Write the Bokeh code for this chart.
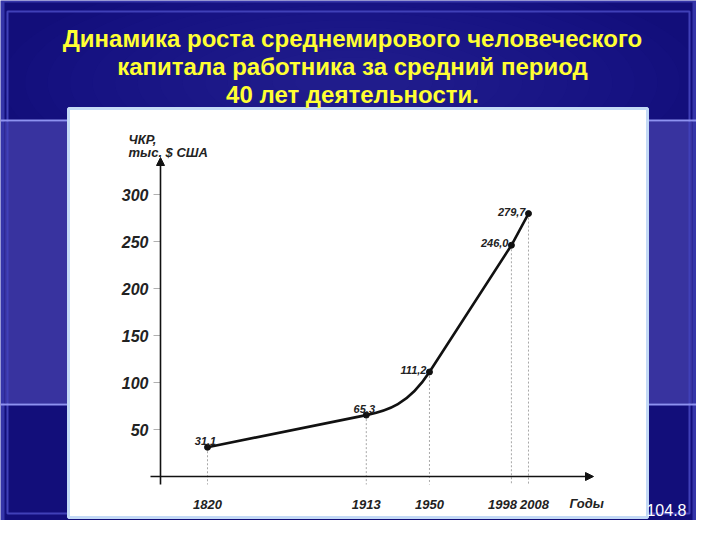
from bokeh.plotting import figure
from bokeh.models import FixedTicker, Arrow, NormalHead
from bokeh.core.properties import value
from bokeh.embed import file_html
from bokeh.resources import INLINE

# данные
years = [1820, 1913, 1950, 1998, 2008]
capital = [31.1, 65.3, 111.2, 246.0, 279.7]
y_ticks = [50, 100, 150, 200, 250, 300]
title_lines = ["Динамика роста среднемирового человеческого",
               "капитала работника за средний период",
               "40 лет деятельности."]
y_title = ["ЧКР,", "тыс. $ США"]
x_title = "Годы"
slide_no = "104.8"

# масштаб: пикселей на год и на 1 тыс. $
K = 1.7074
V = 0.94


def sx(px):
    return 1820 + (px - 215) / K


def sy(py):
    return (484 - py) / V


FONT = value("Liberation Sans")
INK = "#111111"

p = figure(width=696, height=520, x_range=(sx(8), sx(704)), y_range=(sy(528), sy(8)),
           output_backend="svg", toolbar_location=None, min_border=0)
p.grid.visible = False
p.outline_line_color = None
p.background_fill_color = "#3535a9"
p.border_fill_color = "#3535a9"

# фон слайда
p.quad(left=[sx(12)], right=[sx(700)], top=[sy(10)], bottom=[sy(529)],
       fill_color="#120e7a", line_color=None)
# мягкое свечение за заголовком
for i in range(14):
    w = 700 - i * 45
    h = 230 - i * 15
    p.ellipse(x=[sx(360)], y=[sy(90)], width=[w / K], height=[h / V],
              fill_color="#5a5ae0", fill_alpha=0.025, line_color=None)
p.quad(left=[sx(12)], right=[sx(700)], top=[sy(129)], bottom=[sy(411)],
       fill_color="#38339f", line_color=None)
p.quad(left=[sx(15)], right=[sx(697)], top=[sy(19)], bottom=[sy(521)],
       fill_color=None, line_color="#4040b8", line_width=2)
p.segment(x0=[sx(8), sx(8)], y0=[sy(128), sy(412)], x1=[sx(704), sx(704)], y1=[sy(128), sy(412)],
          line_color="#8e92f0", line_width=2)
p.quad(left=[sx(76)], right=[sx(655)], top=[sy(116)], bottom=[sy(525)],
       fill_color="white", line_color="#c4daf6", line_width=3)

# заголовок
p.text(x=[sx(360)] * 3, y=[sy(46), sy(74), sy(102)], text=title_lines,
       text_align="center", text_baseline="alphabetic", text_font=FONT,
       text_font_size="24px", text_font_style="bold", text_color="#ffff33")

# пунктир от точек к оси
p.segment(x0=years, y0=capital, x1=years, y1=[sy(492)] * len(years),
          line_color="#a8a8a8", line_width=1, line_dash="2 2")

# кривая
p.line(years[:2], capital[:2], line_color=INK, line_width=2.6, line_cap="round")
p.line(years[2:], capital[2:], line_color=INK, line_width=2.6, line_cap="round")
s0 = (capital[1] - capital[0]) / (years[1] - years[0])
s1 = (capital[3] - capital[2]) / (years[3] - years[2])
d = (years[2] - years[1]) / 3
p.bezier(x0=[years[1]], y0=[capital[1]], x1=[years[2]], y1=[capital[2]],
         cx0=[years[1] + d], cy0=[capital[1] + s0 * d],
         cx1=[years[2] - d], cy1=[capital[2] - s1 * d],
         line_color=INK, line_width=2.6)
p.scatter(years, capital, size=6, color=INK)

# подписи значений
labels = [f"{v:.1f}".replace(".", ",") for v in capital]
p.text(x=years[:2], y=capital[:2], text=labels[:2], text_align="center",
       text_baseline="alphabetic", x_offset=-2, y_offset=-6, text_font=FONT,
       text_font_size="11px", text_font_style="bold italic", text_color="#222222")
p.text(x=years[2:], y=capital[2:], text=labels[2:], text_align="right",
       text_baseline="middle", x_offset=-3, y_offset=-2, text_font=FONT,
       text_font_size="11px", text_font_style="bold italic", text_color="#222222")

# ось Y
yax = p.yaxis[0]
yax.fixed_location = sx(168)
yax.ticker = FixedTicker(ticks=y_ticks)
yax.axis_line_color = None
yax.major_tick_in = 0
yax.major_tick_out = 7
yax.major_tick_line_color = "#b0b0b0"
yax.minor_tick_line_color = None
yax.major_label_text_font = "Liberation Sans"
yax.major_label_text_font_size = "16px"
yax.major_label_text_font_style = "bold italic"
yax.major_label_text_color = "#222222"
yax.major_label_standoff = 5
p.xaxis.visible = False

head = dict(size=8, fill_color=INK, line_color=INK)
p.add_layout(Arrow(x_start=sx(168), y_start=sy(492), x_end=sx(168), y_end=sy(165),
                   end=NormalHead(**head), line_color=INK, line_width=1.6))
p.add_layout(Arrow(x_start=sx(158), y_start=0, x_end=sx(601), y_end=0,
                   end=NormalHead(**head), line_color=INK, line_width=1.6))

# подписи оси X (1998 и 2008 раздвинуты, чтобы не слиплись)
nudge = {1998: -9, 2008: 6}
p.text(x=years, y=[sy(512)] * len(years), text=[str(y) for y in years],
       x_offset=[nudge.get(y, 0) for y in years], text_align="center",
       text_baseline="alphabetic", text_font=FONT, text_font_size="13px",
       text_font_style="bold italic", text_color="#222222")
p.text(x=[sx(577)], y=[sy(511)], text=[x_title], text_align="left",
       text_baseline="alphabetic", text_font=FONT, text_font_size="13px",
       text_font_style="bold italic", text_color="#222222")
p.text(x=[sx(136)] * 2, y=[sy(147), sy(160)], text=y_title, text_align="left",
       text_baseline="alphabetic", text_font=FONT, text_font_size="13px",
       text_font_style="bold italic", text_color="#222222")

p.text(x=[sx(694)], y=[sy(517)], text=[slide_no], text_align="right",
       text_baseline="alphabetic", text_font=FONT, text_font_size="16px",
       text_color="white")

open("out.html", "w").write(file_html(p, INLINE))
